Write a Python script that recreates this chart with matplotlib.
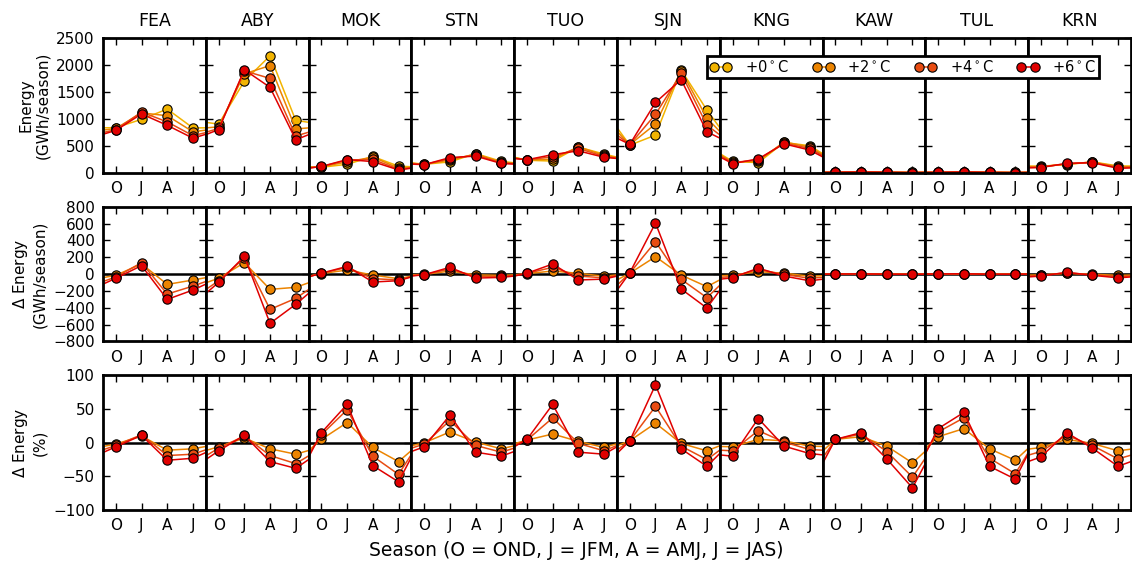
import matplotlib
matplotlib.use("Agg")
import matplotlib.pyplot as plt
import numpy as np

stations = ["FEA", "ABY", "MOK", "STN", "TUO", "SJN", "KNG", "KAW", "TUL", "KRN"]
seasons = ["O", "J", "A", "J"]
scenarios = ["+0$^\\circ$C", "+2$^\\circ$C", "+4$^\\circ$C", "+6$^\\circ$C"]
colors = ["#f2b400", "#ec8400", "#e84c12", "#e00000"]

# energy (GWh/season), rows = stations, cols = OND, JFM, AMJ, JAS
energy_p0 = [[835, 990, 1180, 830], [900, 1700, 2170, 970], [100, 155, 300, 120],
             [155, 200, 355, 210], [230, 215, 475, 345], [510, 697, 1905, 1163],
             [210, 185, 560, 500], [8, 10, 9, 5], [6, 9, 8, 4], [120, 150, 200, 125]]
energy_p2 = [[820, 1110, 1057, 759], [850, 1835, 1988, 812], [108, 200, 288, 85],
             [152, 235, 345, 195], [235, 250, 480, 320], [520, 903, 1893, 1013],
             [195, 213, 570, 475], [8, 11, 8, 3], [7, 11, 7, 3], [112, 158, 197, 110]]
energy_p4 = [[800, 1125, 942, 687], [820, 1890, 1750, 681], [113, 232, 245, 65],
             [150, 260, 325, 182], [238, 295, 450, 300], [522, 1081, 1842, 882],
             [185, 240, 550, 450], [8, 11, 8, 2], [7, 12, 6, 2], [105, 165, 192, 95]]
energy_p6 = [[785, 1090, 879, 640], [800, 1910, 1584, 610], [115, 243, 205, 50],
             [148, 280, 307, 170], [240, 335, 405, 285], [525, 1303, 1727, 759],
             [168, 256, 535, 420], [8, 12, 7, 2], [7, 13, 5, 2], [95, 172, 185, 80]]

# change vs +0 (GWh/season)
delta_p2 = [[-15, 120, -123, -71], [-50, 135, -182, -158], [5, 48, -12, -55],
            [-5, 35, -10, -15], [5, 36, 8, -25], [10, 206, -12, -150],
            [-15, 28, 10, -25], [0, 0, 0, 0], [0, 0, 0, 0], [-10, 8, -3, -15]]
delta_p4 = [[-35, 135, -238, -143], [-80, 190, -420, -289], [8, 80, -55, -70],
            [-7, 60, -30, -28], [8, 80, -24, -45], [12, 384, -63, -281],
            [-30, 55, -5, -50], [0, 1, -1, -2], [0, 1, -1, -2], [-17, 15, -8, -30]]
delta_p6 = [[-50, 100, -301, -190], [-100, 210, -586, -360], [10, 91, -95, -79],
            [-8, 80, -48, -40], [10, 119, -71, -60], [15, 606, -178, -404],
            [-44, 71, -24, -80], [0, 2, -2, -3], [1, 4, -3, -2], [-24, 20, -15, -45]]

# change vs +0 (%)
pct_p2 = [[-2, 10, -11, -9], [-6, 7, -9, -17], [5, 30, -7, -28],
          [0, 16, 1, -9], [4, 13, 2, -7], [3, 29, -1, -12],
          [-6, 5, 3, -5], [5, 9, -5, -30], [9, 21, -9, -26], [-7, 5, -1, -12]]
pct_p4 = [[-4, 12, -19, -17], [-8, 10, -19, -31], [12, 49, -20, -47],
          [-2, 33, -4, -14], [4, 37, -1, -12], [3, 54, -5, -25],
          [-12, 18, 1, -10], [5, 13, -13, -51], [16, 37, -23, -46], [-13, 11, -4, -24]]
pct_p6 = [[-6, 11, -26, -23], [-12, 11, -28, -38], [15, 57, -34, -58],
          [-6, 41, -14, -20], [5, 57, -14, -17], [3, 86, -9, -35],
          [-20, 36, -5, -16], [5, 15, -24, -67], [21, 45, -35, -54], [-21, 15, -8, -35]]

plt.rcParams["font.family"] = "DejaVu Sans"
plt.rcParams["mathtext.default"] = "regular"

fig, axes = plt.subplots(3, 10, figsize=(11.32, 5.63), dpi=100, sharey="row")
fig.subplots_adjust(left=0.091, right=0.999, top=0.9325, bottom=0.094,
                    wspace=0, hspace=0.253)

rows = [
    ([energy_p0, energy_p2, energy_p4, energy_p6], [0, 1, 2, 3], (0, 2500), 500,
     "Energy\n(GWh/season)"),
    ([delta_p2, delta_p4, delta_p6], [1, 2, 3], (-800, 800), 200,
     "$\\Delta$ Energy\n(GWh/season)"),
    ([pct_p2, pct_p4, pct_p6], [1, 2, 3], (-100, 100), 50,
     "$\\Delta$ Energy\n(%)"),
]

x = np.arange(-1, 5)
handles = []
for r, (series, cidx, ylim, step, ylabel) in enumerate(rows):
    for c, st in enumerate(stations):
        ax = axes[r, c]
        if r > 0:
            ax.axhline(0, color="black", lw=1.8, zorder=1)
        for data, ci in zip(series, cidx):
            v = data[c]
            # wrap the seasonal cycle at both ends
            y = [v[-1]] + list(v) + [v[0]]
            h, = ax.plot(x, y, "-o", color=colors[ci], lw=1.1, ms=6.7,
                         mec="black", mew=0.8, zorder=2)
            if r == 0 and c == 0:
                handles.append(h)
        ax.set_xlim(-0.5, 3.5)
        ax.set_ylim(*ylim)
        ax.set_yticks(np.arange(ylim[0], ylim[1] + 1, step))
        ax.set_xticks(range(4))
        ax.set_xticklabels(seasons)
        ax.tick_params(direction="in", top=True, right=True, length=5, width=1,
                       labelsize=11, pad=6)
        for sp in ax.spines.values():
            sp.set_linewidth(2)
        if c > 0:
            ax.tick_params(labelleft=False)
        else:
            ax.set_ylabel(ylabel, fontsize=11, labelpad=4)
        if r == 0:
            ax.set_title(st, fontsize=12.5, pad=9)

leg = fig.legend(handles, scenarios, loc="center", bbox_to_anchor=(0.7977, 0.8815),
                 ncol=4, numpoints=2, fontsize=10.5, handlelength=1.5,
                 columnspacing=1.6, handletextpad=0.9, borderpad=0.2,
                 fancybox=False, framealpha=1)
leg.get_frame().set_edgecolor("black")
leg.get_frame().set_linewidth(2)

fig.text(0.509, 0.022, "Season (O = OND, J = JFM, A = AMJ, J = JAS)",
         ha="center", va="center", fontsize=13.5)

fig.savefig("out.png", dpi=100, facecolor="white")
